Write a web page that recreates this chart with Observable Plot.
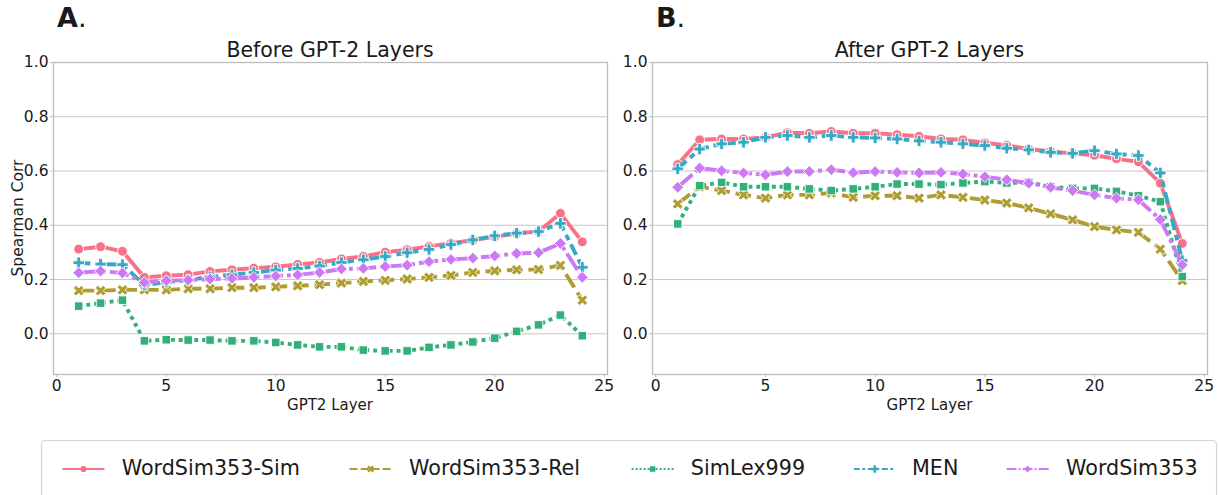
<!DOCTYPE html>
<html><head><meta charset="utf-8">
<script src="https://cdn.jsdelivr.net/npm/d3@7"></script>
<script src="https://cdn.jsdelivr.net/npm/@observablehq/plot@0.6"></script>
<style>
body{margin:0;background:#fff;}
#wrap{position:relative;width:1219px;height:495px;overflow:hidden;background:#fff;font-family:"DejaVu Sans",sans-serif;}
#wrap svg{position:absolute;}
</style></head><body><div id="wrap"></div>
<script>
// ---- data ----
const layers = [1,2,3,4,5,6,7,8,9,10,11,12,13,14,15,16,17,18,19,20,21,22,23,24];
const seriesNames = ["WordSim353-Sim","WordSim353-Rel","SimLex999","MEN","WordSim353"];
const panelTitles = ["Before GPT-2 Layers","After GPT-2 Layers"];
const panelLetters = ["A","B"];
const xTicks = [0,5,10,15,20,25];
const yTicks = [0,0.2,0.4,0.6,0.8,1.0];

const simBefore    = [0.312,0.321,0.304,0.208,0.214,0.218,0.230,0.236,0.242,0.247,0.256,0.263,0.276,0.285,0.301,0.310,0.322,0.334,0.345,0.358,0.370,0.377,0.444,0.339];
const relBefore    = [0.159,0.159,0.162,0.162,0.162,0.166,0.166,0.170,0.170,0.173,0.177,0.181,0.187,0.193,0.197,0.202,0.208,0.215,0.226,0.232,0.236,0.237,0.252,0.124];
const simlexBefore = [0.102,0.113,0.124,-0.026,-0.022,-0.023,-0.023,-0.026,-0.026,-0.032,-0.041,-0.048,-0.048,-0.060,-0.063,-0.063,-0.050,-0.041,-0.030,-0.016,0.009,0.033,0.069,-0.007];
const menBefore    = [0.262,0.257,0.255,0.180,0.190,0.198,0.210,0.218,0.226,0.235,0.241,0.250,0.263,0.273,0.285,0.299,0.311,0.329,0.346,0.361,0.371,0.377,0.407,0.245];
const wsBefore     = [0.225,0.231,0.224,0.189,0.196,0.198,0.202,0.204,0.208,0.213,0.217,0.226,0.239,0.241,0.248,0.253,0.266,0.274,0.279,0.287,0.296,0.299,0.333,0.208];

const simAfter     = [0.624,0.715,0.718,0.718,0.724,0.741,0.739,0.746,0.739,0.739,0.734,0.728,0.718,0.715,0.704,0.694,0.681,0.672,0.665,0.658,0.645,0.634,0.555,0.333];
const relAfter     = [0.479,0.542,0.528,0.512,0.500,0.512,0.512,0.519,0.503,0.509,0.509,0.500,0.512,0.503,0.493,0.482,0.464,0.442,0.420,0.395,0.383,0.374,0.312,0.196];
const simlexAfter  = [0.405,0.546,0.558,0.542,0.542,0.542,0.534,0.528,0.534,0.542,0.552,0.552,0.550,0.556,0.561,0.556,0.558,0.542,0.536,0.536,0.525,0.509,0.487,0.211];
const menAfter     = [0.608,0.681,0.700,0.706,0.724,0.731,0.724,0.731,0.724,0.722,0.718,0.711,0.706,0.700,0.694,0.684,0.678,0.669,0.665,0.675,0.663,0.657,0.593,0.270];
const wsAfter      = [0.540,0.611,0.601,0.593,0.586,0.598,0.598,0.605,0.594,0.598,0.595,0.593,0.595,0.589,0.579,0.568,0.555,0.540,0.528,0.512,0.500,0.494,0.421,0.254];

// ---- styles ----
const colors = ["#f77189","#ae9d31","#33b07a","#38a9c5","#cc7af4"];
const lw = 3.9;
const dashes = [null,[4,1.5],[1,1],[3,1.25,1.5,1.25],[5,1,1,1]];
const symbols = ["circle","cross","square","cross","diamond2"];
const rotations = [0,45,0,0,0];
const radii = [4.9,4.8,4.8,4.8,5.3];

function dashStr(i, w){ return dashes[i] ? dashes[i].map(v=>v*w).join(",") : null; }

const wrap = document.getElementById("wrap");

function panel(vals, left, width, ml, mr){
  const rows = [];
  seriesNames.forEach((name,i)=>layers.forEach((l,j)=>rows.push({layer:l, value:vals[i][j], series:name})));
  const marks = [
    Plot.gridY(yTicks,{stroke:"#b8b8b8",strokeOpacity:1,strokeWidth:0.8}),
    Plot.frame({stroke:"#bdbdbd",strokeWidth:1.3}),
    Plot.axisY(yTicks,{tickFormat:d3.format(".1f"),tickSize:3,tickPadding:2,stroke:"#bdbdbd",fill:"#1a1a1a",label:null,fontSize:15.5}),
    Plot.axisX(xTicks,{tickSize:3,tickPadding:2,stroke:"#bdbdbd",fill:"#1a1a1a",label:null,fontSize:15.5})
  ];
  seriesNames.forEach((name,i)=>{
    const d = rows.filter(r=>r.series===name);
    marks.push(Plot.line(d,{x:"layer",y:"value",stroke:colors[i],strokeWidth:lw,strokeDasharray:dashStr(i,lw),strokeLinecap:"butt",strokeLinejoin:"round"}));
    marks.push(Plot.dot(d,{x:"layer",y:"value",symbol:symbols[i],r:radii[i],rotate:rotations[i],fill:colors[i],stroke:"white",strokeWidth:0.9}));
  });
  const svg = Plot.plot({
    width, height:420, marginLeft:ml, marginRight:mr, marginTop:62, marginBottom:46,
    x:{domain:[-0.15,25.15]}, y:{domain:[-0.15,1.0]},
    style:{background:"none",fontFamily:"DejaVu Sans",fontSize:"15.5px",color:"#1a1a1a",left:left+"px",top:"0px",maxWidth:"none"},
    marks
  });
  wrap.appendChild(svg);
}

panel([simBefore,relBefore,simlexBefore,menBefore,wsBefore], 0, 615, 53, 8);
panel([simAfter,relAfter,simlexAfter,menAfter,wsAfter], 600, 619, 52, 12);

// ---- titles, labels and legend ----
const ov = d3.select(wrap).append("svg").attr("width",1219).attr("height",495)
  .style("left","0px").style("top","0px").attr("font-family","DejaVu Sans").attr("fill","#1a1a1a");
const centers = [330, 929.5];
const lefts = [57, 656];
panelLetters.forEach((L,k)=>{
  const t = ov.append("text").attr("x",lefts[k]).attr("y",27).attr("font-size",27);
  t.append("tspan").attr("font-weight","bold").text(L);
  t.append("tspan").text(".");
  ov.append("text").attr("x",centers[k]).attr("y",57).attr("font-size",20.5).attr("text-anchor","middle").text(panelTitles[k]);
  ov.append("text").attr("x",centers[k]).attr("y",410).attr("font-size",15).attr("text-anchor","middle").text("GPT2 Layer");
});
ov.append("text").attr("transform","translate(17.5,218) rotate(-90)").attr("dy","0.35em")
  .attr("font-size",15.5).attr("text-anchor","middle").text("Spearman Corr");

// legend
ov.append("rect").attr("x",41.5).attr("y",440.5).attr("width",1175).attr("height",80).attr("rx",4)
  .attr("fill","white").attr("stroke","#d4d4d4").attr("stroke-width",1.2);
const sampleX = [62.5,349.6,631.6,853.8,1006.6];
const textX = [121.7,409,690.8,912,1066];
const legW = 2;
seriesNames.forEach((name,i)=>{
  const g = ov.append("g");
  g.append("line").attr("x1",sampleX[i]).attr("x2",sampleX[i]+42).attr("y1",469).attr("y2",469)
    .attr("stroke",colors[i]).attr("stroke-width",legW).attr("stroke-dasharray",dashStr(i,legW));
  const sym = {circle:d3.symbolCircle,cross:d3.symbolCross,square:d3.symbolSquare,diamond2:d3.symbolDiamond2}[symbols[i]];
  g.append("path").attr("d",d3.symbol(sym, 30)()).attr("fill",colors[i])
    .attr("transform",`translate(${sampleX[i]+21},469) rotate(${rotations[i]})`);
  g.append("text").attr("x",textX[i]).attr("y",474.5).attr("font-size",20.7).text(name);
});
</script></body></html>
